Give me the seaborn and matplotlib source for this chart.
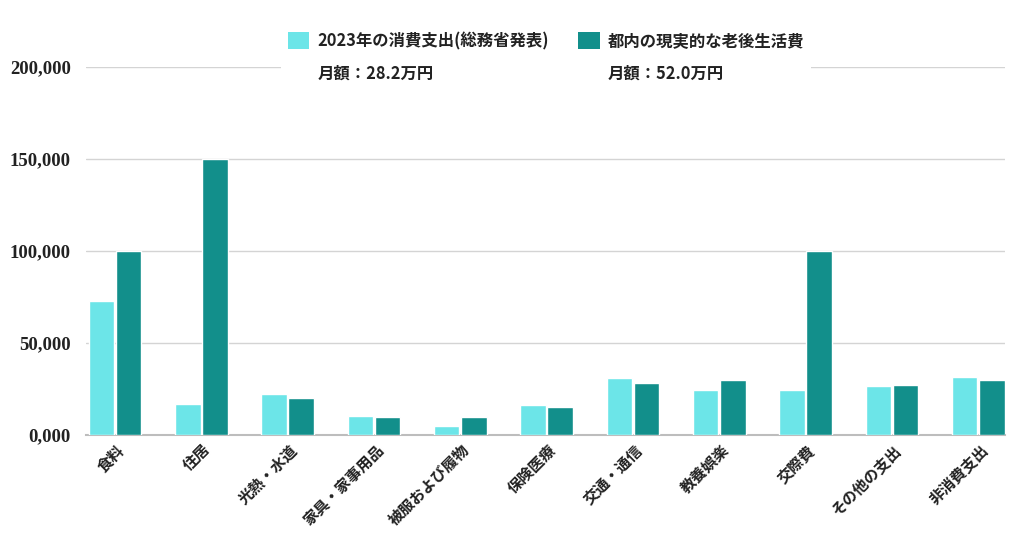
import matplotlib
matplotlib.use("Agg")
import matplotlib.pyplot as plt
import matplotlib.transforms as mtransforms
import seaborn as sns
import pandas as pd
from matplotlib.patches import Patch

categories = ["食料", "住居", "光熱・水道", "家具・家事用品", "被服および履物", "保険医療",
              "交通・通信", "教養娯楽", "交際費", "その他の支出", "非消費支出"]
series_names = ["2023年の消費支出(総務省発表)", "都内の現実的な老後生活費"]
series_notes = ["月額：28.2万円", "月額：52.0万円"]
survey_2023 = [72930, 16827, 22442, 10595, 5057, 16561, 30808, 24484, 24200, 26500, 31538]
tokyo_real = [100000, 150000, 20000, 10000, 10000, 15000, 28000, 30000, 100000, 27000, 30000]
y_ticks = [0, 50000, 100000, 150000, 200000]
y_tick_labels = ["0,000", "50,000", "100,000", "150,000", "200,000"]
colors = ["#6CE5E8", "#128F8B"]

df = pd.DataFrame({
    "category": categories * 2,
    "series": [series_names[0]] * len(categories) + [series_names[1]] * len(categories),
    "value": survey_2023 + tokyo_real,
})

sns.set_theme(style="white")
plt.rcParams["font.family"] = ["Noto Sans CJK JP", "DejaVu Sans"]

fig = plt.figure(figsize=(10.24, 5.38), dpi=100)
ax = fig.add_axes([86 / 1024, 1 - 435 / 538, (1005 - 86) / 1024, (435 - 67) / 538])

sns.barplot(data=df, x="category", y="value", hue="series", order=categories,
            hue_order=series_names, palette=colors, width=0.63, gap=0.06,
            saturation=1, ax=ax, legend=False, zorder=3)

ax.set_ylim(0, 200000)
ax.set_xlim(-0.336, 10.31)
ax.set_yticks(y_ticks)
ax.set_yticklabels(y_tick_labels, fontfamily="Liberation Serif", fontweight="bold",
                   fontsize=13.5, color="#222222")
ax.yaxis.grid(True, color="#d4d4d4", linewidth=1, zorder=0)
ax.set_axisbelow(True)
ax.tick_params(axis="y", length=0, pad=11)
ax.tick_params(axis="x", length=0, pad=9)
ax.set_xticks(range(len(categories)))
ax.set_xticklabels(categories, rotation=45, ha="right", va="center",
                   rotation_mode="anchor", fontweight="bold", fontsize=11,
                   color="#222222")
offset = mtransforms.ScaledTranslation(7 / 100, 0, fig.dpi_scale_trans)
for lbl in ax.get_xticklabels():
    lbl.set_fontfamily(["Noto Sans CJK JP", "DejaVu Sans"])
    lbl.set_transform(lbl.get_transform() + offset)
ax.set_xlabel("")
ax.set_ylabel("")
for s in ["left", "right", "top"]:
    ax.spines[s].set_visible(False)
ax.spines["bottom"].set_color("#bdbdbd")
ax.spines["bottom"].set_linewidth(1.5)

handles = [Patch(facecolor=colors[0], edgecolor="none"),
           Patch(facecolor="none", edgecolor="none"),
           Patch(facecolor=colors[1], edgecolor="none"),
           Patch(facecolor="none", edgecolor="none")]
labels = [series_names[0], series_notes[0], series_names[1], series_notes[1]]
leg = fig.legend(handles, labels, ncol=2, loc="center", bbox_to_anchor=(546 / 1024, 1 - 57 / 538),
                 frameon=True, facecolor="white", edgecolor="none", framealpha=1,
                 prop={"family": ["Noto Sans CJK JP", "DejaVu Sans"], "weight": "bold", "size": 11.8},
                 handlelength=1.3, handleheight=1.3, handletextpad=0.5, columnspacing=1.8,
                 labelspacing=0.85, borderpad=0.4, fancybox=False)
for t in leg.get_texts():
    t.set_color("#222222")

fig.savefig("out.png", dpi=100, facecolor="white")
